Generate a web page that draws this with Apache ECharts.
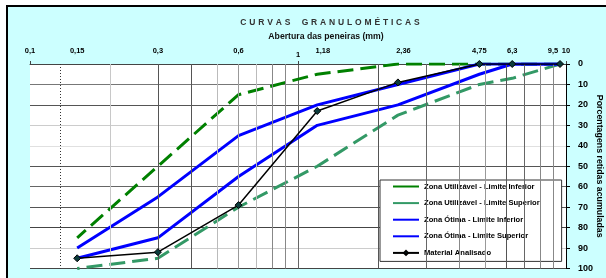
<!DOCTYPE html>
<html>
<head>
<meta charset="utf-8">
<script src="https://cdn.jsdelivr.net/npm/echarts@6/dist/echarts.min.js"></script>
<style>
  html, body { margin: 0; padding: 0; background: #ffffff; overflow: hidden; }
  #frame { position: absolute; left: 6px; top: 5px; width: 640px; height: 320px;
           background: #CCFFFF; border-left: 2.5px solid #000; border-top: 2.5px solid #000; }
  #chart { position: absolute; left: 0; top: 0; width: 606px; height: 278px; }
</style>
</head>
<body>
<div id="frame"></div>
<div id="chart"></div>
<script>
// ---- data ----
const sieves = [9.5, 6.3, 4.75, 2.36, 1.18, 0.6, 0.3, 0.15];           // abertura (mm)
const utilInf = [0, 0, 0, 0, 5, 15, 50, 85];       // Zona Utilizável - Limite Inferior
const utilSup = [0, 7, 10, 25, 50, 70, 95, 100];   // Zona Utilizável - Limite Superior
const otimaInf = [0, 0, 0, 10, 20, 35, 65, 90];    // Zona Ótima - Limite Inferior
const otimaSup = [0, 0, 5, 20, 30, 55, 85, 95];    // Zona Ótima - Limite Superior
const material = [0, 0, 0, 9, 23, 69, 92, 95];     // Material Analisado
const seriesNames = ['Zona Utilizável - Limite Inferior', 'Zona Utilizável - Limite Superior',
  'Zona Ótima - Limite Inferior', 'Zona Ótima - Limite Superior', 'Material Analisado'];
const xTickLabels = [0.1, 0.15, 0.3, 0.6, 1, 1.18, 2.36, 4.75, 6.3, 9.5, 10];
const minorGrid = [0.2, 0.3, 0.4, 0.5, 0.6, 0.7, 0.8, 0.9, 2, 3, 4, 5, 6, 7, 8, 9];
const guideLines = [0.132];
const titleText = 'CURVAS GRANULOMÉTICAS';
const subtitleText = 'Abertura das peneiras (mm)';
const yName = 'Porcentagens retidas acumuladas';

// ---- styles ----
const F = '"Liberation Sans", Arial, sans-serif';
const minorColors = ['#c8c8c8', '#555', '#555', '#bbb', '#999', '#bbb', '#888', '#888',
                     '#555', '#666', '#888', '#999', '#555', '#666', '#888', '#888'];
const pairs = arr => sieves.map((s, i) => [s, arr[i]]);
const spaced = titleText.split('').map(c => c === ' ' ? '\u2004\u2004' : c).join('\u2004');

const chart = echarts.init(document.getElementById('chart'), null, { renderer: 'canvas' });
const dash = [16, 7];
const lbl = { fontFamily: F, fontSize: 7.5, fontWeight: 'bold', color: '#000' };
chart.setOption({
  backgroundColor: 'transparent',
  animation: false,
  title: [
    { text: spaced, left: 330, top: 18, padding: 0, textAlign: 'center',
      textStyle: { fontFamily: F, fontSize: 8.5, fontWeight: 'bold', color: '#333' } },
    { text: subtitleText, left: 326, top: 32.5, padding: 0, textAlign: 'center',
      textStyle: { fontFamily: F, fontSize: 8.7, fontWeight: 'bold', color: '#111' } }
  ],
  grid: { left: 30, right: 40, top: 64, bottom: 9.5, outerBoundsMode: 'none', containLabel: false,
          show: true, backgroundColor: '#fff', borderWidth: 0 },
  legend: {
    orient: 'vertical', left: 380, top: 180,
    itemWidth: 26, itemHeight: 5, itemGap: 8.6,
    padding: [2.5, 22, 4.5, 12],
    backgroundColor: '#fff', borderColor: '#333', borderWidth: 1, borderRadius: 0,
    textStyle: { fontFamily: F, fontSize: 7.6, fontWeight: 'bold', color: '#000' },
    data: seriesNames.map((n, i) => ({ name: n, lineStyle: { type: 'solid' },
      itemStyle: i < 4 ? { opacity: 0 } : { opacity: 1 } }))
  },
  xAxis: {
    type: 'log', logBase: 10, min: 0.1, max: 10, position: 'top',
    axisLine: { show: true, lineStyle: { color: '#444', width: 1 } },
    axisTick: { show: true, length: 3, lineStyle: { color: '#444' } },
    splitLine: { show: true, showMinLine: false, lineStyle: { color: '#666', width: 1 } },
    axisLabel: {
      customValues: xTickLabels, margin: 5, fontFamily: F,
      formatter: v => {
        const t = String(v).replace('.', ',');
        if (v === 1) return '{d|' + t + '}';
        if (v === 9.5) return '{l|' + t + '}';
        if (v === 1.18 || v === 2.36) return '{r|' + t + '}';
        return '{n|' + t + '}';
      },
      rich: {
        n: Object.assign({ padding: [0, 0, 4, 0] }, lbl),
        d: Object.assign({ padding: [0, 0, 0, 0] }, lbl),
        l: Object.assign({ padding: [0, 14, 4, 0] }, lbl),
        r: Object.assign({ padding: [0, 0, 4, 11] }, lbl)
      }
    }
  },
  yAxis: {
    type: 'value', inverse: true, min: 0, max: 100, interval: 10, position: 'right',
    name: yName, nameLocation: 'middle', nameRotate: -90, nameGap: 29, nameMoveOverlap: false,
    nameTextStyle: { fontFamily: F, fontSize: 8.8, fontWeight: 'bold', color: '#000' },
    axisLine: { show: true, lineStyle: { color: '#000', width: 1 } },
    axisTick: { show: true, length: 4, lineStyle: { color: '#000' } },
    axisLabel: { margin: 12, fontFamily: F, fontSize: 9, fontWeight: 'bold', color: '#000' },
    splitLine: { show: true, lineStyle: { width: 1,
      color: ['#444', '#777', '#555', '#ccc', '#e0e0e0', '#555', '#666', '#555', '#444', '#ccc', '#444'] } }
  },
  series: [
    { name: 'grid', type: 'line', data: [], silent: true, z: 1,
      markLine: { silent: true, symbol: 'none', label: { show: false },
        data: minorGrid.map((v, i) => ({ xAxis: v, lineStyle: { color: minorColors[i], width: 1, type: 'solid' } }))
          .concat(guideLines.map(v => ({ xAxis: v, lineStyle: { color: '#333', width: 1, type: [1, 2] } }))) } },
    { name: seriesNames[0], type: 'line', data: pairs(utilInf), showSymbol: false, symbol: 'none',
      color: '#008000', lineStyle: { color: '#008000', width: 3, type: dash }, z: 3 },
    { name: seriesNames[1], type: 'line', data: pairs(utilSup), showSymbol: false, symbol: 'none',
      color: '#339966', lineStyle: { color: '#339966', width: 3, type: dash }, z: 3 },
    { name: seriesNames[2], type: 'line', data: pairs(otimaInf), showSymbol: false, symbol: 'none',
      color: '#0000FF', lineStyle: { color: '#0000FF', width: 3 }, z: 4 },
    { name: seriesNames[3], type: 'line', data: pairs(otimaSup), showSymbol: false, symbol: 'none',
      color: '#0000FF', lineStyle: { color: '#0000FF', width: 3 }, z: 4 },
    { name: seriesNames[4], type: 'line', data: pairs(material), symbol: 'diamond', symbolSize: 7,
      color: '#000', itemStyle: { color: '#0b3b3b', borderColor: '#000', borderWidth: 1 },
      lineStyle: { color: '#000', width: 1.5 }, z: 5 }
  ]
});
</script>
</body>
</html>
